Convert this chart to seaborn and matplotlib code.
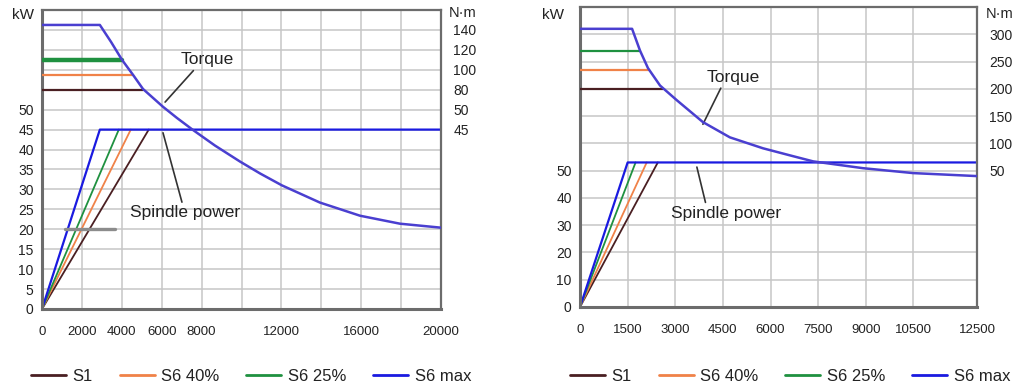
import numpy as np
import matplotlib
matplotlib.use("Agg")
import matplotlib.pyplot as plt
from matplotlib.lines import Line2D
import seaborn as sns

# --- DATA ---
series_names = ["S1", "S6 40%", "S6 25%", "S6 max"]
series_colors = ["#4a1f22", "#f08248", "#1f9140", "#1a1ae0"]
torque_max_color = "#4a3fd0"

# left chart: 20000 rpm spindle (kW up to 45, torque in N·m)
l_power_kw = 45
l_power_top_rpm = [5350, 4450, 3850, 2900]      # rpm where each power line reaches 45 kW
l_torque_nm = [80, 95, 110]                     # S1, S6 40%, S6 25% constant torque
l_torque_end_rpm = [5060, 4560, 4010]
l_max_rpm = [0, 2900, 3460, 4010, 4560, 5060, 6070, 6770, 7570, 8670, 9920, 10930,
             12030, 13930, 15940, 17940, 20000]
l_max_nm = [145, 145, 128, 110, 95, 80.8, 54.2, 47.9, 44.9, 41.0, 37.0, 34.0,
            31.0, 26.7, 23.4, 21.4, 20.4]
l_grey_rpm = [1150, 3660]
l_grey_kw = [20, 20]
l_xticks = [0, 2000, 4000, 6000, 8000, 10000, 12000, 14000, 16000, 18000, 20000]
l_xlabels = ["0", "2000", "4000", "6000", "8000", "", "12000", "", "16000", "", "20000"]
l_nm_ticks = [45, 50, 80, 100, 120, 140]
l_nm_stops = [0, 45, 50, 80, 100, 120, 140, 160]   # torque axis is not linear
l_row_stops = [0, 9, 10, 11, 12, 13, 14, 15]

# right chart: 12500 rpm spindle
r_power_kw = 53
r_power_top_rpm = [2450, 2100, 1750, 1500]
r_torque_nm = [200, 235, 270]
r_torque_end_rpm = [2600, 2170, 1890]
r_max_rpm = [0, 1640, 1890, 2140, 2520, 3050, 3870, 4720, 5760, 6610, 7340, 8910, 10490, 12500]
r_max_nm = [310, 310, 270, 238, 206, 179, 139, 111, 91, 78, 67, 54.5, 49.1, 48]
r_xticks = [0, 1500, 3000, 4500, 6000, 7500, 9000, 10500, 12500]
r_xlabels = ["0", "1500", "3000", "4500", "6000", "7500", "9000", "10500", "12500"]
r_nm_ticks = [50, 100, 150, 200, 250, 300]
r_nm_stops = [0, 50, 100, 150, 200, 250, 300, 350]
r_row_stops = [0, 5, 6, 7, 8, 9, 10, 11]

sns.set_style("white")
plt.rcParams["font.family"] = ["Liberation Sans", "DejaVu Sans"]

fig = plt.figure(figsize=(10.24, 3.9), dpi=100)
ax_l = fig.add_axes([42 / 1024, 81 / 390, 399 / 1024, 299 / 390])
ax_r = fig.add_axes([580 / 1024, 83 / 390, 397 / 1024, 300 / 390])

GRID = "#c6c6c6"
FRAME = "#6c6c6c"
TXT = "#222222"


def draw_chart(ax, kw_per_row, nrows, xmax, xticks, xlabels, kw_labels_to,
               power_kw, top_rpm, t_nm, t_end, max_rpm, max_nm,
               nm_stops, row_stops, nm_ticks, green_lw):
    ax.set_xlim(0, xmax)
    ax.set_ylim(0, kw_per_row * nrows)
    yt = [kw_per_row * i for i in range(nrows)]
    ax.set_yticks(yt)
    ax.set_yticklabels([str(v) if v <= kw_labels_to else "" for v in yt])
    ax.set_xticks(xticks)
    ax.set_xticklabels(xlabels)
    ax.grid(True, color=GRID, lw=1.1)
    ax.set_axisbelow(True)
    ax.tick_params(length=0, labelsize=10, colors=TXT)
    ax.tick_params(axis="x", pad=12, labelsize=9.5)
    ax.tick_params(axis="y", pad=6)
    for s in ["left", "bottom"]:
        ax.spines[s].set_color(FRAME)
        ax.spines[s].set_linewidth(2.2)
    for s in ["top", "right"]:
        ax.spines[s].set_color(FRAME)
        ax.spines[s].set_linewidth(1.6)

    # spindle power (kW axis)
    for i in range(3):
        sns.lineplot(x=[0, top_rpm[i]], y=[0, power_kw], ax=ax, color=series_colors[i],
                     lw=1.3, sort=False, estimator=None)
    sns.lineplot(x=[0, top_rpm[3], xmax], y=[0, power_kw, power_kw], ax=ax,
                 color=series_colors[3], lw=1.6, sort=False, estimator=None)

    # torque (twin axis with the stepped N·m scale)
    ax2 = ax.twinx()
    fwd = lambda t: np.interp(t, nm_stops, row_stops)
    inv = lambda r: np.interp(r, row_stops, nm_stops)
    ax2.set_yscale("function", functions=(fwd, inv))
    ax2.set_ylim(0, nm_stops[-1])
    ax2.set_yticks(nm_ticks)
    ax2.set_yticklabels([str(v) for v in nm_ticks])
    ax2.yaxis.set_minor_locator(matplotlib.ticker.NullLocator())
    ax2.tick_params(length=0, labelsize=10, colors=TXT, pad=9)
    for s in ax2.spines.values():
        s.set_visible(False)
    for i in range(3):
        sns.lineplot(x=[0, t_end[i]], y=[t_nm[i], t_nm[i]], ax=ax2, color=series_colors[i],
                     lw=green_lw if i == 2 else 1.6, sort=False, estimator=None)
    sns.lineplot(x=max_rpm, y=max_nm, ax=ax2, color=torque_max_color, lw=1.8,
                 sort=False, estimator=None)
    ax2.set_xlim(0, xmax)
    return ax2


draw_chart(ax_l, 5, 15, 20000, l_xticks, l_xlabels, 50,
           l_power_kw, l_power_top_rpm, l_torque_nm, l_torque_end_rpm,
           l_max_rpm, l_max_nm, l_nm_stops, l_row_stops, l_nm_ticks, 3.2)
sns.lineplot(x=l_grey_rpm, y=l_grey_kw, ax=ax_l, color="#8c8c8c", lw=2.4,
             sort=False, estimator=None)

draw_chart(ax_r, 10, 11, 12500, r_xticks, r_xlabels, 50,
           r_power_kw, r_power_top_rpm, r_torque_nm, r_torque_end_rpm,
           r_max_rpm, r_max_nm, r_nm_stops, r_row_stops, r_nm_ticks, 1.6)

# annotations
arrow = dict(arrowstyle="-", color="#333333", lw=1.2, shrinkA=0, shrinkB=0)
ax_l.annotate("Torque", xy=(6170, 51.9), xytext=(8270, 62.5), ha="center", va="center",
              fontsize=12.5, color=TXT, arrowprops=dict(arrow, relpos=(0.3, 0.0)))
ax_l.annotate("Spindle power", xy=(6065, 44.2), xytext=(7170, 24.1), ha="center", va="center",
              fontsize=12.5, color=TXT, arrowprops=dict(arrow, relpos=(0.48, 1.0)))
ax_r.annotate("Torque", xy=(3870, 67), xytext=(4820, 84.2), ha="center", va="center",
              fontsize=12.5, color=TXT, arrowprops=dict(arrow, relpos=(0.3, 0.0)))
ax_r.annotate("Spindle power", xy=(3680, 51.3), xytext=(4600, 34.4), ha="center", va="center",
              fontsize=12.5, color=TXT, arrowprops=dict(arrow, relpos=(0.32, 1.0)))

# unit labels
ax_l.text(-0.048, 0.983, "kW", transform=ax_l.transAxes, ha="center", va="center", fontsize=11, color=TXT)
ax_l.text(1.053, 0.99, "N·m", transform=ax_l.transAxes, ha="center", va="center", fontsize=10.5, color=TXT)
ax_r.text(-0.068, 0.973, "kW", transform=ax_r.transAxes, ha="center", va="center", fontsize=11, color=TXT)
ax_r.text(1.058, 0.977, "N·m", transform=ax_r.transAxes, ha="center", va="center", fontsize=10.5, color=TXT)

# legends under each chart
handles = [Line2D([0], [0], color=c, lw=2) for c in series_colors]
for cx in [251 / 1024, 790 / 1024]:
    fig.legend(handles, series_names, loc="center", bbox_to_anchor=(cx, 0.035), ncol=4,
               frameon=False, fontsize=12, handlelength=2.1, handletextpad=0.4,
               columnspacing=1.6, labelcolor=TXT)

fig.savefig("out.png", dpi=100, facecolor="white")
